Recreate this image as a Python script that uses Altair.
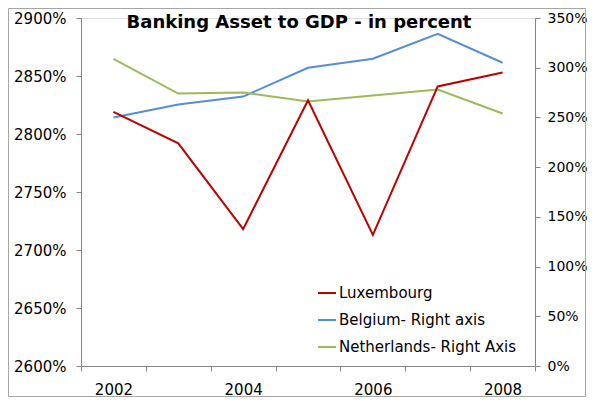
import altair as alt
import pandas as pd

years = [2002, 2003, 2004, 2005, 2006, 2007, 2008]
luxembourg = [2819, 2792, 2718, 2829, 2713, 2841, 2853]
belgium = [250, 263, 271, 300, 309, 334, 305]
netherlands = [309, 274, 275, 266, 272, 278, 254]

series_names = ["Luxembourg", "Belgium- Right axis", "Netherlands- Right Axis"]
series_colors = ["#C00000", "#558ED5", "#9BBB59"]
title_text = "Banking Asset to GDP - in percent"

left_df = pd.DataFrame({"year": years, "value": luxembourg, "series": series_names[0]})
right_df = pd.concat([
    pd.DataFrame({"year": years, "value": belgium, "series": series_names[1]}),
    pd.DataFrame({"year": years, "value": netherlands, "series": series_names[2]}),
])

FONT = "DejaVu Sans"
AXIS_COLOR = "#868686"

x_enc = alt.X(
    "year:O",
    scale=alt.Scale(type="band", paddingInner=0, paddingOuter=0),
    bandPosition=0.5,
    axis=alt.Axis(
        title=None,
        tickBand="extent",
        labelExpr="datum.value % 2 == 0 ? datum.label : ''",
        labelAngle=0,
        labelFont=FONT,
        labelFontSize=15,
        labelColor="#000000",
        labelPadding=11,
        tickSize=5,
        tickColor=AXIS_COLOR,
        domainColor=AXIS_COLOR,
        grid=False,
    ),
)

color_enc = alt.Color(
    "series:N",
    scale=alt.Scale(domain=series_names, range=series_colors),
    sort=series_names,
    legend=alt.Legend(
        title=None,
        orient="none",
        legendX=236,
        legendY=265,
        symbolType="stroke",
        symbolSize=324,
        symbolStrokeWidth=2,
        labelFont=FONT,
        labelFontSize=15,
        labelColor="#000000",
        labelOffset=2,
        rowPadding=9,
        labelLimit=300,
    ),
)

right_layer = alt.Chart(right_df).mark_line(strokeWidth=2).encode(
    x=x_enc,
    y=alt.Y(
        "value:Q",
        scale=alt.Scale(domain=[0, 350], nice=False, zero=False),
        axis=alt.Axis(
            orient="right",
            title=None,
            values=[0, 50, 100, 150, 200, 250, 300, 350],
            labelExpr="datum.value + '%'",
            labelFont=FONT,
            labelFontSize=14,
            labelColor="#000000",
            labelPadding=7,
            tickSize=5,
            tickColor=AXIS_COLOR,
            domainColor=AXIS_COLOR,
            grid=False,
        ),
    ),
    color=color_enc,
    detail="series:N",
)

left_layer = alt.Chart(left_df).mark_line(strokeWidth=2).encode(
    x=x_enc,
    y=alt.Y(
        "value:Q",
        scale=alt.Scale(domain=[2600, 2900], nice=False, zero=False),
        axis=alt.Axis(
            orient="left",
            title=None,
            values=[2600, 2650, 2700, 2750, 2800, 2850, 2900],
            labelExpr="datum.value + '%'",
            labelFont=FONT,
            labelFontSize=15,
            labelColor="#000000",
            labelPadding=10,
            tickSize=5,
            tickColor=AXIS_COLOR,
            domainColor=AXIS_COLOR,
            grid=False,
        ),
    ),
    color=color_enc,
)

title_layer = alt.Chart(pd.DataFrame({"t": [title_text]})).mark_text(
    font=FONT, fontSize=18, fontWeight="bold", color="#000000",
    align="center", baseline="alphabetic",
).encode(text="t:N", x=alt.value(218), y=alt.value(10))

frame_layer = alt.Chart(pd.DataFrame({"f": [0]})).mark_rect(
    fill=None, fillOpacity=0, stroke="#A6A6A6", strokeWidth=1,
).encode(x=alt.value(-72.5), x2=alt.value(504.5), y=alt.value(-9.5), y2=alt.value(378.5))

chart = alt.layer(frame_layer, right_layer, left_layer, title_layer).resolve_scale(
    y="independent", color="shared"
).properties(
    width=454,
    height=348,
    autosize=alt.AutoSizeParams(type="none"),
    padding={"left": 73, "top": 10, "right": 52, "bottom": 31},
).configure_view(stroke=None).configure(background="#FFFFFF")

chart.save("out.html", embed_options={"renderer": "svg", "actions": False})
